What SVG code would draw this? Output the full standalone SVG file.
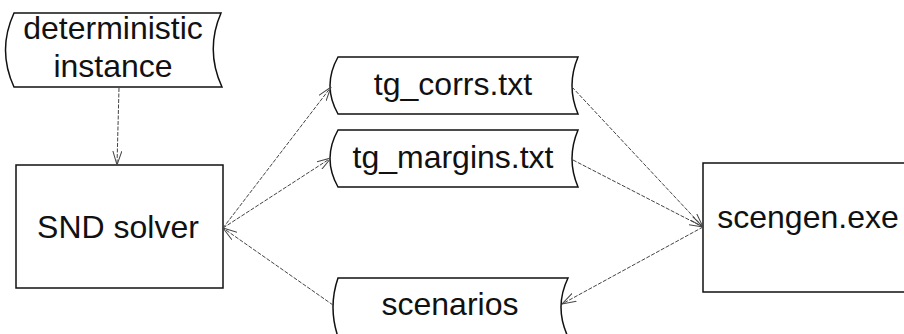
<svg xmlns="http://www.w3.org/2000/svg" width="904" height="334" viewBox="0 0 904 334">
  <style>
    .shape { fill: #ffffff; stroke: #111111; stroke-width: 1.5; }
    .label { font-family: "Liberation Sans", Arial, sans-serif; font-size: 32px; fill: #111111; text-anchor: middle; }
    .edge { fill: none; stroke: #444444; stroke-width: 1; stroke-dasharray: 4 1.5; }
  </style>
  <defs>
    <marker id="arrow" viewBox="0 0 14 10" refX="14" refY="5" markerWidth="14" markerHeight="10" markerUnits="userSpaceOnUse" orient="auto">
      <path d="M0,0.5 L14,5 L0,9.5" fill="none" stroke="#444444" stroke-width="1"/>
    </marker>
  </defs>

  <rect width="904" height="334" fill="#ffffff"/>

  <!-- data (stored file) shapes -->
  <g id="deterministic-instance">
    <path class="shape" d="M14,13 L221,13 Q205,50 222,87 L14,87 Q-3,50 14,13 Z"/>
    <text class="label" x="113" y="39">deterministic</text>
    <text class="label" x="113" y="77">instance</text>
  </g>

  <g id="snd-solver">
    <rect class="shape" x="16" y="165" width="207" height="123"/>
    <text class="label" x="118" y="238">SND solver</text>
  </g>

  <g id="tg-corrs">
    <path class="shape" d="M338,57 L578,57 Q566,85.5 578,114 L338,114 Q322,85.5 338,57 Z"/>
    <text class="label" x="453" y="95">tg_corrs.txt</text>
  </g>

  <g id="tg-margins">
    <path class="shape" d="M338,130 L578,130 Q566,158.5 578,187 L338,187 Q322,158.5 338,130 Z"/>
    <text class="label" x="453" y="168">tg_margins.txt</text>
  </g>

  <g id="scenarios">
    <path class="shape" d="M338,278 L568,278 Q554,307 568,337 L338,337 Q328,307 338,278 Z"/>
    <text class="label" x="450" y="315">scenarios</text>
  </g>

  <g id="scengen">
    <rect class="shape" x="703" y="163" width="210" height="129"/>
    <text class="label" x="808" y="228">scengen.exe</text>
  </g>

  <!-- connectors -->
  <g id="connectors">
    <path class="edge" d="M119,88 L117,165" marker-end="url(#arrow)"/>
    <path class="edge" d="M223,228 L331,87" marker-end="url(#arrow)"/>
    <path class="edge" d="M223,228 L331,158" marker-end="url(#arrow)"/>
    <path class="edge" d="M333,305 L223,228" marker-end="url(#arrow)"/>
    <path class="edge" d="M572,87 L703,227" marker-end="url(#arrow)"/>
    <path class="edge" d="M573,160 L703,227" marker-end="url(#arrow)"/>
    <path class="edge" d="M703,227 L562,304" marker-end="url(#arrow)"/>
  </g>
</svg>
